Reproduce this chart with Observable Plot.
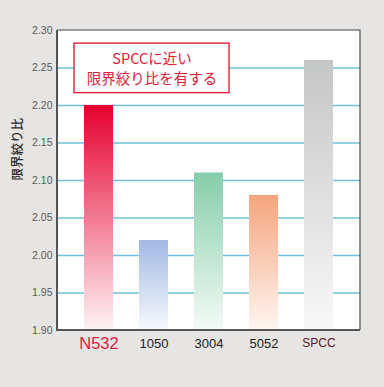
<!DOCTYPE html>
<html><head><meta charset="utf-8">
<script src="https://cdn.jsdelivr.net/npm/d3@7"></script>
<script src="https://cdn.jsdelivr.net/npm/@observablehq/plot@0.6"></script>
<style>
html,body{margin:0;padding:0;background:#e6e5e3;}
#chart{width:384px;height:387px;}
svg{display:block;}
</style></head><body><div id="chart"></div>
<script>
const categories = ["N532", "1050", "3004", "5052", "SPCC"];
const values = [2.20, 2.02, 2.11, 2.08, 2.26];
const topColors = ["#e6002e", "#a2b9e4", "#86cdaa", "#f5a47d", "#c5c6c6"];
const bottomColors = ["#fff3f6", "#f7f9fd", "#f3fbf7", "#fff6f1", "#f8f8f8"];
const labelColors = ["#e0203c", "#222222", "#222222", "#222222", "#5c1525"];
const labelSizes = [16.5, 13, 13, 13, 12];
const yDomain = [1.90, 2.30];
const yTicks = [1.90, 1.95, 2.00, 2.05, 2.10, 2.15, 2.20, 2.25, 2.30];
const gridTicks = [1.95, 2.00, 2.05, 2.10, 2.15, 2.20, 2.25];
const yLabel = "限界絞り比";
const noteLines = ["SPCCに近い", "限界絞り比を有する"];
const noteLineY = [2.2613, 2.2353];
const noteAnchor = "1050";
const noteY = [2.2165, 2.2825];

const bars = categories.map((c, i) => ({cat: c, value: values[i], base: yDomain[0], i}));
const notes = noteLines.map((t, i) => ({t, y: noteLineY[i]}));
const font = "'Liberation Sans', Arial, sans-serif";
const cjk = "'Noto Sans CJK JP', 'Liberation Sans', sans-serif";

const gradients = () => {
  const g = d3.create("svg:g");
  const defs = g.append("defs");
  categories.forEach((c, i) => {
    const lg = defs.append("linearGradient").attr("id", "grad" + i)
      .attr("x1", 0).attr("y1", 0).attr("x2", 0).attr("y2", 1);
    lg.append("stop").attr("offset", "0%").attr("stop-color", topColors[i]);
    lg.append("stop").attr("offset", "100%").attr("stop-color", bottomColors[i]);
  });
  return g.node();
};

const border = (index, scales, values, dim) => {
  const l = dim.marginLeft, r = dim.width - dim.marginRight;
  const t = dim.marginTop, b = dim.height - dim.marginBottom;
  const g = d3.create("svg:g").attr("fill", "none");
  g.append("path").attr("d", `M${l},${t}H${r}V${b}`).attr("stroke", "#4a4a4a").attr("stroke-width", 1.2);
  g.append("path").attr("d", `M${l},${t}V${b}H${r}`).attr("stroke", "#555555").attr("stroke-width", 2);
  return g.node();
};

const noteBox = (index, scales) => {
  const cx = scales.x(noteAnchor) + scales.x.bandwidth() / 2 - 2;
  const y0 = scales.y(noteY[1]), y1 = scales.y(noteY[0]);
  const g = d3.create("svg:g");
  g.append("rect").attr("x", cx - 77.5).attr("y", y0).attr("width", 155).attr("height", y1 - y0)
    .attr("fill", "white").attr("stroke", "#e0203c").attr("stroke-width", 1.4);
  return g.node();
};

const chart = Plot.plot({
  width: 384,
  height: 387,
  marginLeft: 57,
  marginRight: 24,
  marginTop: 30,
  marginBottom: 57,
  style: {background: "transparent", fontFamily: font},
  x: {domain: categories, padding: 0.475, axis: null},
  y: {domain: yDomain, axis: null},
  marks: [
    gradients,
    Plot.frame({fill: "white", stroke: "none"}),
    Plot.ruleY(gridTicks, {stroke: "#6ec1d9", strokeWidth: 1.3}),
    ...bars.map(d => Plot.barY([d], {x: "cat", y1: "base", y2: "value", fill: `url(#grad${d.i})`})),
    noteBox,
    Plot.text(notes, {x: () => noteAnchor, y: "y", text: "t", dx: -2,
      fill: "#e0203c", fontSize: 14.5, fontFamily: cjk, lineAnchor: "middle"}),
    border,
    Plot.text(yTicks, {frameAnchor: "left", y: d => d, text: d => d.toFixed(2), dx: -5, textAnchor: "end",
      fill: "#5a5a5a", fontSize: 10.5, fontFamily: font}),
    Plot.text([yLabel], {frameAnchor: "left", text: d => d, rotate: -90, dx: -40, dy: 0,
      fill: "#2a2a2a", fontSize: 12.5, fontWeight: 500, fontFamily: cjk}),
    Plot.text(bars, {x: "cat", y: "base", text: "cat", dy: 13, fill: d => labelColors[d.i],
      fontSize: d => labelSizes[d.i], fontFamily: font, lineAnchor: "middle"})
  ]
});
document.getElementById("chart").appendChild(chart);
</script></body></html>
